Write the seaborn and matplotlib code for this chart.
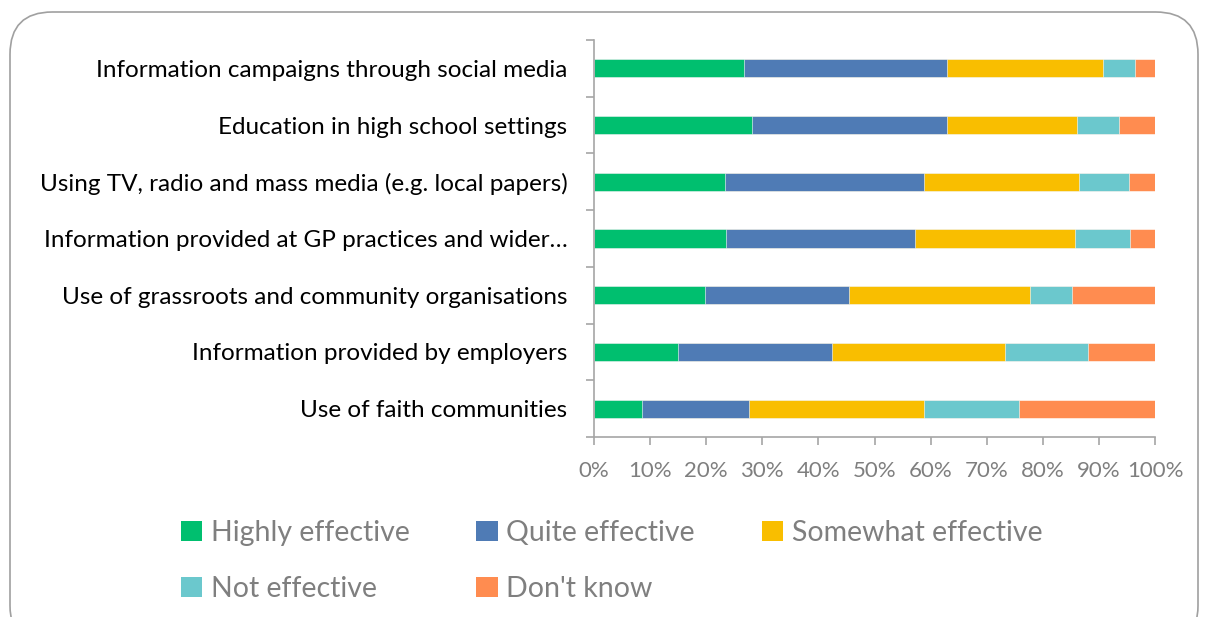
import matplotlib
matplotlib.use("Agg")
import matplotlib.pyplot as plt
import seaborn as sns
import numpy as np
import pandas as pd
from matplotlib.patches import FancyBboxPatch, Patch

categories = [
    "Information campaigns through social media",
    "Education in high school settings",
    "Using TV, radio and mass media (e.g. local papers)",
    "Information provided at GP practices and wider\u2026",
    "Use of grassroots and community organisations",
    "Information provided by employers",
    "Use of faith communities",
]
series_names = ["Highly effective", "Quite effective", "Somewhat effective", "Not effective", "Don't know"]
highly = [26.7, 28.1, 23.4, 23.5, 19.7, 15.0, 8.5]
quite = [36.2, 34.8, 35.4, 33.7, 25.8, 27.4, 19.1]
somewhat = [27.8, 23.2, 27.7, 28.5, 32.2, 30.8, 31.3]
not_eff = [5.7, 7.5, 8.9, 9.9, 7.5, 14.9, 16.9]
dont_know = [3.6, 6.4, 4.6, 4.4, 14.8, 11.9, 24.2]
colors = ["#00BF6F", "#4F7BB5", "#F9BE00", "#6BC8CD", "#FF8C50"]
tick_labels = ["0%", "10%", "20%", "30%", "40%", "50%", "60%", "70%", "80%", "90%", "100%"]

sns.set_theme(style="white")
plt.rcParams["font.family"] = ["Lato", "DejaVu Sans"]

fig = plt.figure(figsize=(12.08, 6.17), dpi=100)
ax = fig.add_axes([594 / 1208, 1 - 437 / 617, (1155 - 594) / 1208, (437 - 40) / 617])

vals = np.array([highly, quite, somewhat, not_eff, dont_know])
cum = np.cumsum(vals, axis=0)
df = pd.DataFrame({"category": categories})
for i in range(len(series_names) - 1, -1, -1):
    df["cum"] = cum[i]
    sns.barplot(data=df, y="category", x="cum", color=colors[i], orient="h",
                width=0.32, ax=ax, saturation=1, edgecolor="white", linewidth=0.4)

ax.set_xlim(0, 100)
ax.set_ylim(len(categories) - 0.5, -0.5)
ax.set_xticks(np.arange(0, 101, 10))
ax.set_xticklabels(tick_labels, fontsize=16, color="#7F7F7F")
ax.set_yticks(range(len(categories)))
ax.set_yticklabels(categories, fontsize=17.5, color="black")
ax.set_yticks(np.arange(-0.5, len(categories), 1), minor=True)
ax.tick_params(axis="y", which="major", length=0, pad=19)
ax.tick_params(axis="y", which="minor", length=6, color="#A6A6A6", width=1.2, left=True)
ax.tick_params(axis="x", length=6, color="#A6A6A6", width=1.2, bottom=True, pad=11)
ax.set_xlabel("")
ax.set_ylabel("")
for s in ["top", "right"]:
    ax.spines[s].set_visible(False)
for s in ["left", "bottom"]:
    ax.spines[s].set_color("#A6A6A6")
    ax.spines[s].set_linewidth(1.2)

handles = [Patch(facecolor=c, edgecolor="none") for c in colors]
order = [0, 3, 1, 4, 2]
leg = fig.legend([handles[i] for i in order], [series_names[i] for i in order],
                 ncol=3, loc="lower left", bbox_to_anchor=(155 / 1208, -0.017),
                 frameon=False, fontsize=20.5, labelcolor="#7F7F7F",
                 handlelength=0.75, handleheight=0.75, handletextpad=0.3,
                 columnspacing=2.35, labelspacing=1.05)

border = FancyBboxPatch((10 / 1208, -0.05), (1198 - 10) / 1208, (1 - 12 / 617) + 0.05,
                        boxstyle="round,pad=0,rounding_size=0.035",
                        transform=fig.transFigure, facecolor="none",
                        edgecolor="#A0A0A0", linewidth=1.2, mutation_aspect=1208 / 617)
fig.patches.append(border)

fig.savefig("out.png", dpi=100)
